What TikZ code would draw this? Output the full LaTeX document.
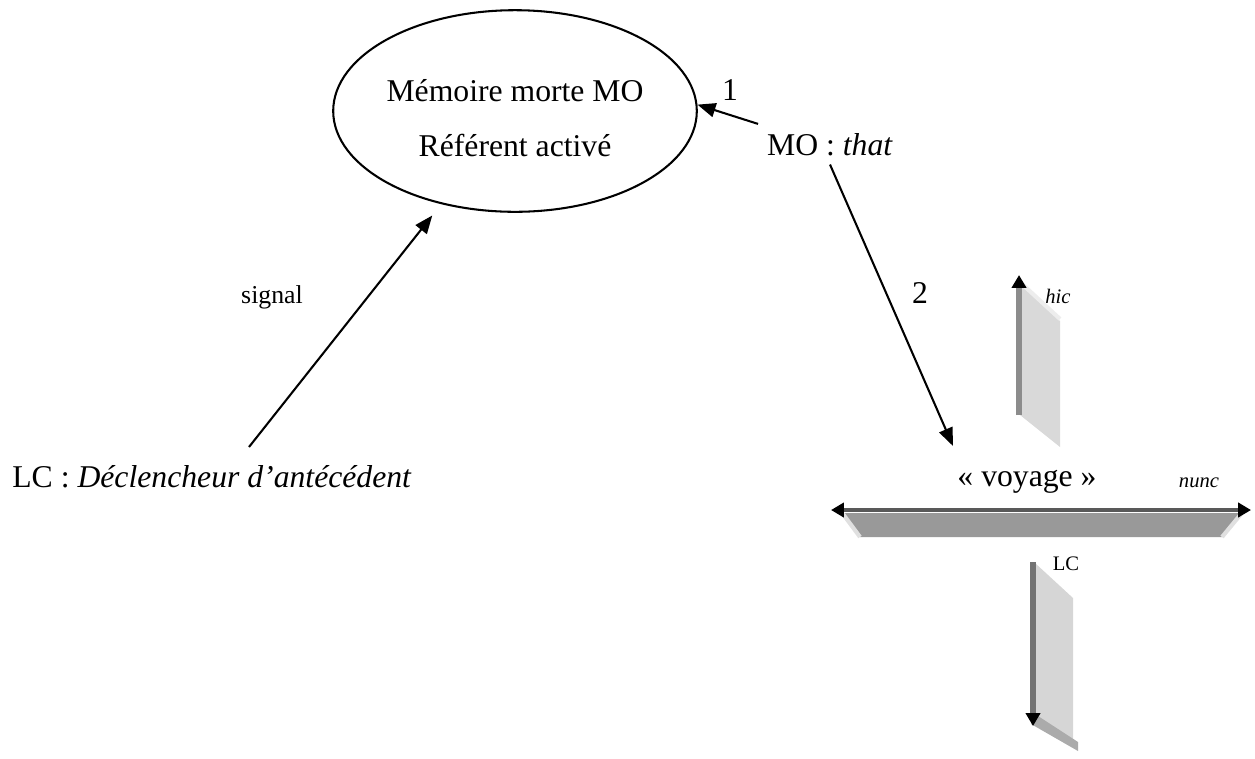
\documentclass[tikz,border=0pt]{standalone}
\usepackage{fontspec}
\setmainfont{Liberation Serif}
\usepackage{tikz}
\usetikzlibrary{arrows.meta,shapes.geometric}

\begin{document}
\begin{tikzpicture}[x=0.013636cm,y=-0.013636cm,
        font=\fontsize{12.3}{14}\selectfont,
        arr/.style={line width=0.8pt,-{Triangle[length=7pt,width=5.5pt]}},
        tiny/.style={font=\fontsize{8}{9}\selectfont,inner sep=0pt},
        lbl/.style={anchor=base}]
      \useasboundingbox (0,0) rectangle (1255,758);
      % memoire et referent
      \node[ellipse,draw,line width=0.8pt,inner sep=0pt,minimum width=4.96cm,minimum height=2.75cm,
        align=center,font=\fontsize{12.3}{21.6}\selectfont] (ell) at (515,111)
        {\rule{0pt}{14pt}Mémoire morte MO\\Référent activé};
      \node[lbl] (mo) at (830,155) {MO : \textit{that}};
      \node[lbl] (lc) at (212,487) {LC : \textit{Déclencheur d’antécédent}};
      \node[lbl] (voy) at (1027,486) {«~voyage~»};
      \node[lbl,font=\fontsize{10}{12}\selectfont] (sig) at (272,303) {signal};
      \node[lbl] (one) at (730,100) {1};
      \node[lbl] (two) at (920,303) {2};
      \coordinate (sigfoot) at (249,447);
      \coordinate (voyhead) at (953,446);
      \draw[arr] (mo.north west) -- (ell.2);
      \draw[arr] (mo.south) -- (voyhead);
      \draw[arr,shorten >=5.6pt] (sigfoot) -- (ell);
      % axe horizontal (nunc)
      \fill[black!40] (842,513) -- (1242,513) -- (1222,537) -- (860,537) -- cycle;
      \draw[black!12,line width=1.6pt] (843,514) -- (860,537) (1241,514) -- (1222,537);
      \draw[black!65,line width=1.5pt,{Triangle[length=5pt,width=5.5pt,black]}-{Triangle[length=5pt,width=5.5pt,black]}]
        (831,510) -- (1251,510);
      % axe hic
      \fill[black!15] (1020,284) -- (1060,321) -- (1060,447) -- (1020,415) -- cycle;
      \draw[black!7,line width=1.6pt] (1021,283) -- (1060,319);
      \draw[black!45,line width=2pt,-{Triangle[length=5pt,width=5.5pt,black]}] (1019,415) -- (1019,275);
      % axe LC
      \fill[black!16] (1035,563) -- (1073,598) -- (1073,747) -- (1035,718) -- cycle;
      \fill[black!33] (1031,724) -- (1038,716) -- (1078,742) -- (1078,751) -- cycle;
      \draw[black!55,line width=2pt,-{Triangle[length=5pt,width=5.5pt,black]}] (1033,562) -- (1033,726);
      \node[lbl,tiny,font=\fontsize{8}{9}\itshape] (hic) at (1058,303) {hic};
      \node[lbl,tiny,font=\fontsize{8}{9}\itshape] (nunc) at (1199,487) {nunc};
      \node[lbl,tiny] (lcax) at (1066,570) {LC};
\end{tikzpicture}
\end{document}
